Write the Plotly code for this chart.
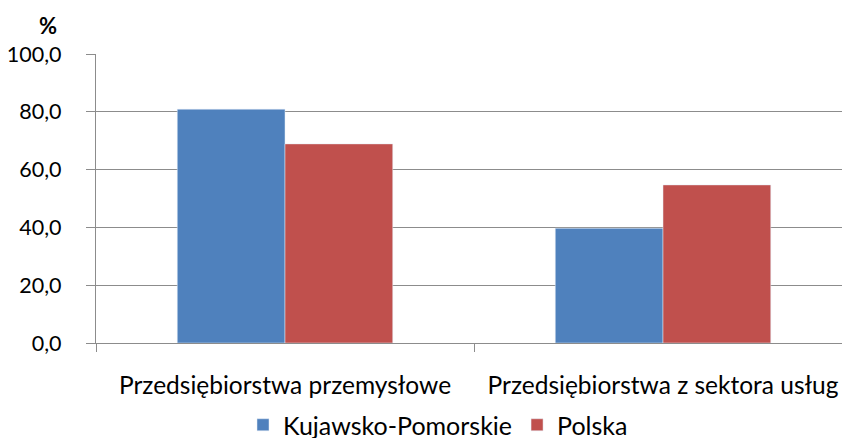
import plotly.graph_objects as go

categories = ["Przedsiębiorstwa przemysłowe", "Przedsiębiorstwa z sektora usług"]
kujawsko = [80.9, 39.7]
polska = [68.9, 54.7]
series_names = ["Kujawsko-Pomorskie", "Polska"]
y_ticks = [0, 20, 40, 60, 80, 100]
y_tick_labels = ["0,0", "20,0", "40,0", "60,0", "80,0", "100,0"]

FONT = "Lato"
GRID = "#8c8c8c"
W, H = 842, 438
PL, PT, PW, PH = 96, 54, 746, 289

fig = go.Figure()
fig.add_trace(go.Bar(x=categories, y=kujawsko, name=series_names[0], marker_color="#4F81BD"))
fig.add_trace(go.Bar(x=categories, y=polska, name=series_names[1], marker_color="#C0504D"))

fig.update_layout(
    width=W, height=H,
    paper_bgcolor="white", plot_bgcolor="white",
    margin=dict(l=PL, r=W - PL - PW, t=PT, b=H - PT - PH, autoexpand=False),
    barmode="group", bargap=0.43, bargroupgap=0,
    font=dict(family=FONT, size=22, color="#000000"),
    showlegend=True,
    legend=dict(orientation="h", x=438 / W, xref="container", xanchor="center",
                y=(H - 425) / H, yref="container", yanchor="middle",
                font=dict(size=25), itemwidth=30, traceorder="normal"),
    xaxis=dict(type="category", range=[-0.5, 1.4735], showline=True, linecolor=GRID, linewidth=1.3,
               ticks="outside", tickson="boundaries", ticklen=8, tickcolor=GRID, tickwidth=1.3,
               ticklabelstandoff=20, showgrid=False, automargin=False, tickfont=dict(size=24.5)),
    yaxis=dict(range=[0, 100], tickvals=y_ticks, ticktext=y_tick_labels, showline=True, linecolor=GRID,
               linewidth=1.3, ticks="outside", ticklen=9, tickcolor=GRID, tickwidth=1.3,
               showgrid=True, gridcolor=GRID, gridwidth=1.3, zeroline=False, ticklabelstandoff=20,
               automargin=False, tickfont=dict(size=21.5)),
    annotations=[dict(text="<b>%</b>", x=(48 - PL) / PW, y=(PT + PH - 25) / PH, xref="paper", yref="paper",
                      showarrow=False, xanchor="center", yanchor="middle", font=dict(size=22))],
)
fig.write_html("out.html", config={"displayModeBar": False},
               post_script="document.body.style.margin='0';document.body.style.overflow='hidden';")
